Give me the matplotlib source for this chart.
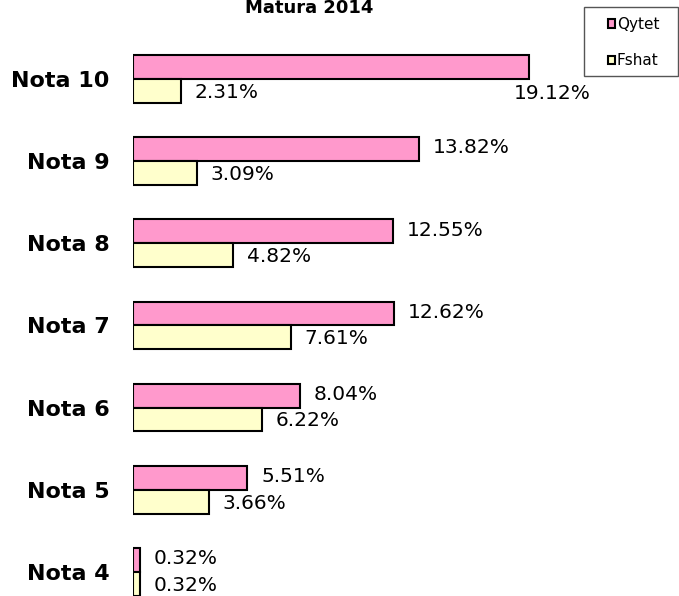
import matplotlib.pyplot as plt
import numpy as np
from matplotlib.patches import Patch, Rectangle

plt.rcParams['font.family'] = ['DejaVu Sans']

# Data
notat = ['Nota 4', 'Nota 5', 'Nota 6', 'Nota 7', 'Nota 8', 'Nota 9', 'Nota 10']
qytet = [0.32, 5.51, 8.04, 12.62, 12.55, 13.82, 19.12]
fshat = [0.32, 3.66, 6.22, 7.61, 4.82, 3.09, 2.31]

pink = '#FF99CC'
yellow = '#FFFFCC'

fig = plt.figure(figsize=(6.79, 5.96), dpi=100)
ax = fig.add_axes([133 / 679, 0, 1 - 133 / 679, 1])

y = np.arange(len(notat))
h = 0.29
ax.barh(y + h / 2, qytet, height=h, color=pink, edgecolor='black', linewidth=1.5)
ax.barh(y - h / 2, fshat, height=h, color=yellow, edgecolor='black', linewidth=1.5)

for i in range(len(notat)):
    if i == len(notat) - 1:
        # label pushed down-right by the legend
        ax.annotate(f'{qytet[i]:.2f}%', (qytet[i], y[i] + h / 2), xytext=(17, -19),
                    textcoords='offset points', ha='center', va='center', fontsize=14.5)
    else:
        ax.annotate(f'{qytet[i]:.2f}%', (qytet[i], y[i] + h / 2), xytext=(10, 1),
                    textcoords='offset points', ha='left', va='center', fontsize=14.5)
    ax.annotate(f'{fshat[i]:.2f}%', (fshat[i], y[i] - h / 2), xytext=(10, -1),
                textcoords='offset points', ha='left', va='center', fontsize=14.5)

ax.set_xlim(0, (679 - 133) / 20.71)
ax.set_ylim(-24 / 82.2, 6 + 79 / 82.2)
ax.set_yticks(y)
ax.set_yticklabels(notat, fontsize=16, fontweight='bold')
ax.tick_params(axis='y', length=0, pad=17)
ax.set_xticks([])
for s in ax.spines.values():
    s.set_visible(False)

fig.text(309 / 679, 1 - 13 / 596, 'Matura 2014', ha='center', va='baseline',
         fontsize=13, fontweight='bold')

# legend box
fig.patches.append(Rectangle((584 / 679, 1 - 76 / 596), 94 / 679, 69 / 596,
                             transform=fig.transFigure, facecolor='white',
                             edgecolor='#555555', linewidth=1.0))
handles = [Patch(facecolor=pink, edgecolor='black', linewidth=1.5, label='Qytet'),
           Patch(facecolor=yellow, edgecolor='black', linewidth=1.5, label='Fshat')]
fig.legend(handles=handles, loc='upper left', bbox_to_anchor=(608 / 679, 1 - 17 / 596),
           fontsize=11, frameon=False, handlelength=0.48, handleheight=0.48,
           handletextpad=0.1, labelspacing=1.39, borderpad=0, borderaxespad=0)

plt.savefig('out.png', dpi=100)
